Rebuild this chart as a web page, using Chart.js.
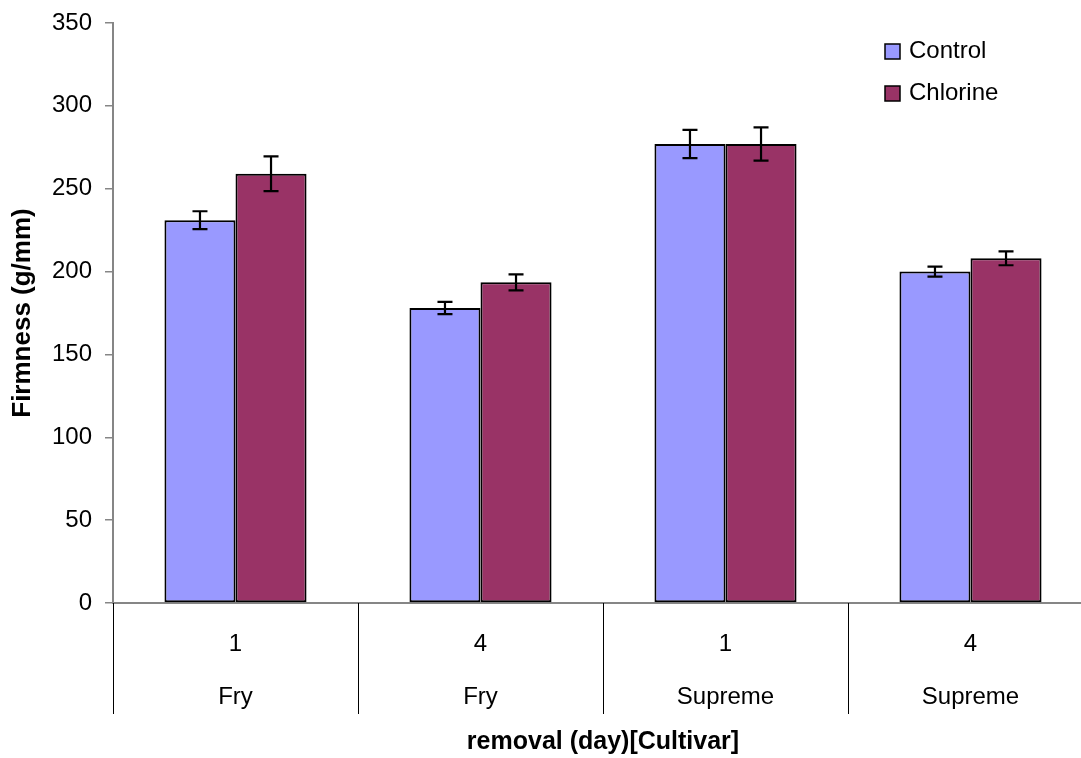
<!DOCTYPE html>
<html>
<head>
<meta charset="utf-8">
<script src="https://cdn.jsdelivr.net/npm/chart.js@4/dist/chart.umd.min.js"></script>
<style>
  html, body { margin: 0; padding: 0; background: #fff; overflow: hidden; width: 1081px; height: 758px; }
  canvas { display: block; }
</style>
</head>
<body>
<canvas id="c" width="1100" height="758"></canvas>
<script>
const dayLabels = ['1', '4', '1', '4'];
const cultivarLabels = ['Fry', 'Fry', 'Supreme', 'Supreme'];
const seriesNames = ['Control', 'Chlorine'];
const controlValues = [231, 178, 277, 200];
const controlErrors = [5.4, 3.7, 8.5, 3.0];
const chlorineValues = [259, 193.5, 277, 208];
const chlorineErrors = [10.5, 4.8, 10, 4.2];
const yTicks = [0, 50, 100, 150, 200, 250, 300, 350];

const FONT = '"Liberation Sans", Arial, sans-serif';
const categories = dayLabels.map((d, i) => [d, cultivarLabels[i]]);

const errorBarPlugin = {
  id: 'errorBars',
  afterDatasetsDraw(chart) {
    const ctx = chart.ctx;
    const y = chart.scales.y;
    ctx.save();
    ctx.strokeStyle = '#000';
    ctx.lineWidth = 2.2;
    chart.data.datasets.forEach((ds, di) => {
      const meta = chart.getDatasetMeta(di);
      meta.data.forEach((el, i) => {
        const v = ds.data[i], e = ds.errors[i];
        const yt = y.getPixelForValue(v + e), yb = y.getPixelForValue(v - e);
        const x = el.x, h = 7.5;
        ctx.beginPath();
        ctx.moveTo(x, yt); ctx.lineTo(x, yb);
        ctx.moveTo(x - h, yt); ctx.lineTo(x + h, yt);
        ctx.moveTo(x - h, yb); ctx.lineTo(x + h, yb);
        ctx.stroke();
      });
    });
    ctx.restore();
  }
};

const separatorPlugin = {
  id: 'separators',
  afterDraw(chart) {
    const ctx = chart.ctx;
    const xs = chart.scales.x;
    const n = categories.length;
    const w = (xs.right - xs.left) / n;
    ctx.save();
    ctx.strokeStyle = '#000';
    ctx.lineWidth = 1;
    for (let i = 0; i <= n; i++) {
      const x = Math.round(xs.left + i * w) + 0.5;
      ctx.beginPath();
      ctx.moveTo(x, xs.top);
      ctx.lineTo(x, xs.top + 111);
      ctx.stroke();
    }
    ctx.restore();
  }
};

const legendPlugin = {
  id: 'customLegend',
  afterDraw(chart) {
    const ctx = chart.ctx;
    ctx.save();
    ctx.font = '24px ' + FONT;
    ctx.textBaseline = 'middle';
    ctx.textAlign = 'left';
    chart.data.datasets.forEach((ds, i) => {
      const cy = 51.5 + i * 42;
      ctx.fillStyle = ds.backgroundColor;
      ctx.fillRect(885, cy - 7.5, 15, 15);
      ctx.strokeStyle = '#000';
      ctx.lineWidth = 1.5;
      ctx.strokeRect(885, cy - 7.5, 15, 15);
      ctx.fillStyle = '#000';
      ctx.fillText(ds.label, 909, cy);
    });
    ctx.restore();
  }
};

new Chart(document.getElementById('c'), {
  type: 'bar',
  data: {
    labels: categories,
    datasets: [
      { label: seriesNames[0], data: controlValues, errors: controlErrors,
        backgroundColor: '#9999FF', borderColor: '#000', borderWidth: 2, borderSkipped: false },
      { label: seriesNames[1], data: chlorineValues, errors: chlorineErrors,
        backgroundColor: '#993366', borderColor: '#000', borderWidth: 2, borderSkipped: false }
    ]
  },
  options: {
    responsive: false,
    animation: false,
    devicePixelRatio: 1,
    layout: { padding: { top: 23, right: 7, bottom: 0, left: 0 } },
    datasets: { bar: { categoryPercentage: 0.58, barPercentage: 1.0 } },
    plugins: { legend: { display: false }, tooltip: { enabled: false } },
    scales: {
      x: {
        grid: { display: false },
        border: { display: true, color: '#868686', width: 2 },
        ticks: { color: '#000', font: { family: FONT, size: 24, lineHeight: 2.2083 }, padding: 7, maxRotation: 0, autoSkip: false },
        title: { display: true, text: 'removal (day)[Cultivar]', color: '#000',
                 font: { family: FONT, size: 25, weight: 'bold' }, padding: { top: 0, bottom: 1 } },
        afterFit(s) { s.height = 155; s.paddingLeft = 0; s.paddingRight = 0; }
      },
      y: {
        min: 0, max: 350,
        afterBuildTicks(s) { s.ticks = yTicks.map(v => ({ value: v })); },
        grid: { drawOnChartArea: false, drawTicks: true, tickLength: 8, color: '#868686', lineWidth: 1.5 },
        border: { display: true, color: '#868686', width: 2 },
        ticks: { color: '#000', font: { family: FONT, size: 24 }, padding: 13 },
        title: { display: true, text: 'Firmness (g/mm)', color: '#000',
                 font: { family: FONT, size: 26, weight: 'bold' }, padding: { top: 7, bottom: 0 } },
        afterFit(s) { s.width = 113; s.paddingTop = 0; s.paddingBottom = 0; }
      }
    }
  },
  plugins: [errorBarPlugin, separatorPlugin, legendPlugin]
});
</script>
</body>
</html>
